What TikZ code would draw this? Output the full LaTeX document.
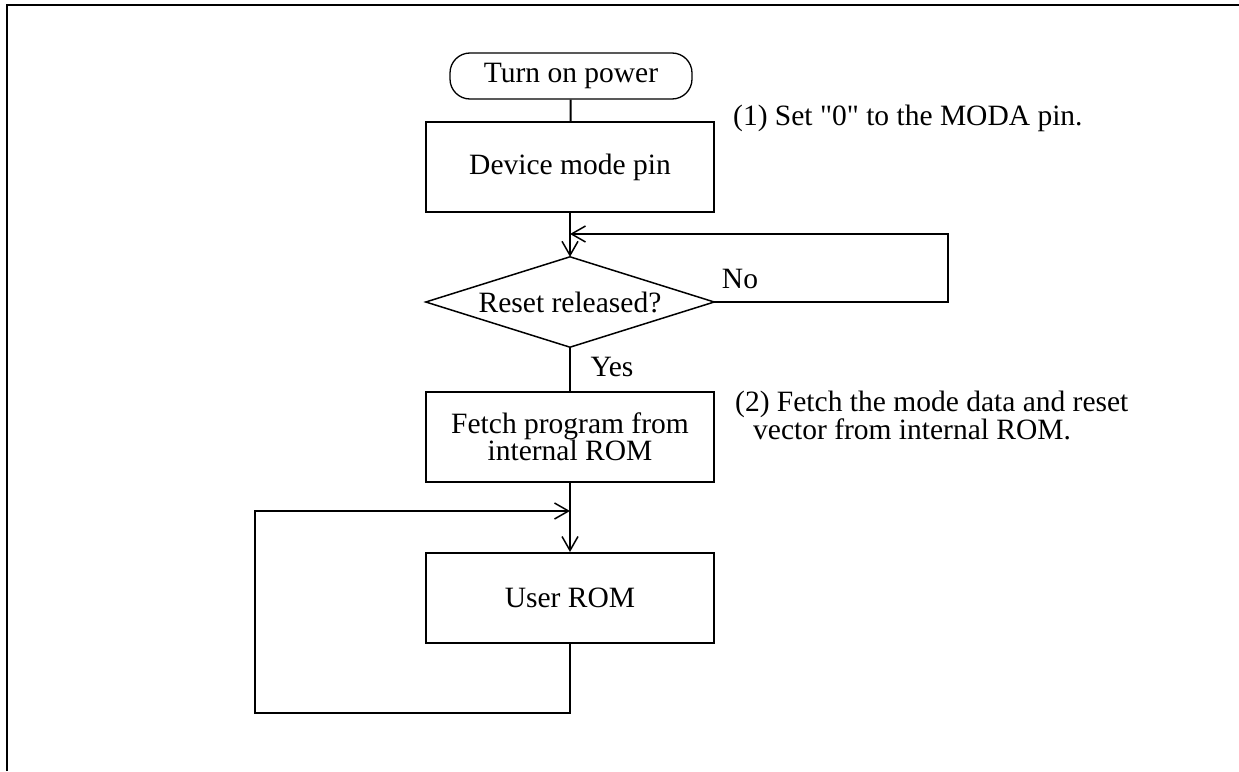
\documentclass[tikz,border=0pt]{standalone}
\usepackage{fontspec}
\setmainfont{Liberation Serif}[Ligatures=ResetAll]
\usetikzlibrary{arrows.meta}
\newcommand\myqd{\XeTeXglyph\XeTeXglyphindex "quotedbl"\relax}
\begin{document}
\begin{tikzpicture}[x=1pt,y=-1pt,
  every node/.style={font=\fontsize{29.5}{28}\selectfont},
  boxnode/.style={draw,line width=2pt,minimum width=288pt,minimum height=90pt,inner sep=0pt,align=center},
  termnode/.style={draw,line width=1.3pt,rounded corners=20pt,minimum width=242pt,minimum height=46pt,inner sep=0pt},
  decnode/.style={minimum width=288pt,minimum height=90pt,inner sep=0pt},
  decline/.style={line width=1.5pt,line join=miter},
  conn/.style={line width=2pt},
  arr/.style={line width=2pt,-{Straight Barb[length=14pt,width=16pt,line width=1.5pt]}},
  lbl/.style={inner sep=0pt}]
\useasboundingbox (0,0) rectangle (1239,771);
\draw[line width=2.5pt] (7,771) -- (7,5) -- (1239,5);
\node[termnode] (start) at (571,76) {Turn on power};
\node[boxnode] (mode) at (570,167) {Device mode pin};
\node[decnode] (dec) at (570,302) {Reset released?};
\draw[decline] (dec.west) -- (dec.north) -- (dec.east) -- (dec.south) -- cycle;
\node[boxnode] (fetch) at (570,437) {Fetch program from\\[-1pt]internal ROM};
\node[boxnode] (user) at (570,598) {User ROM};
\node[lbl,anchor=west] (n1) at (733,118) {(1) Set \myqd0\myqd{} to the MODA pin.};
\node[lbl,anchor=north west,align=left] (n2) at (735,391) {(2) Fetch the mode data and reset\\\hspace*{18pt}vector from internal ROM.};
\node[lbl] (no) at (740,279) {No};
\node[lbl] (yes) at (612,367) {Yes};
\coordinate (j1) at (570,234);
\coordinate (j2) at (570,511);
\coordinate (r1) at (948,302);
\coordinate (r2) at (948,234);
\coordinate (b1) at (570,713);
\coordinate (b2) at (255,713);
\coordinate (b3) at (255,511);
\draw[conn] (start) -- (mode);
\draw[arr] (mode.south) -- (dec.north);
\draw[arr] (dec.east) -- (r1) -- (r2) -- (j1);
\draw[conn] (dec.south) -- (fetch.north);
\draw[arr] (fetch.south) -- (user.north);
\draw[arr] (user.south) -- (b1) -- (b2) -- (b3) -- (j2);
\end{tikzpicture}
\end{document}
